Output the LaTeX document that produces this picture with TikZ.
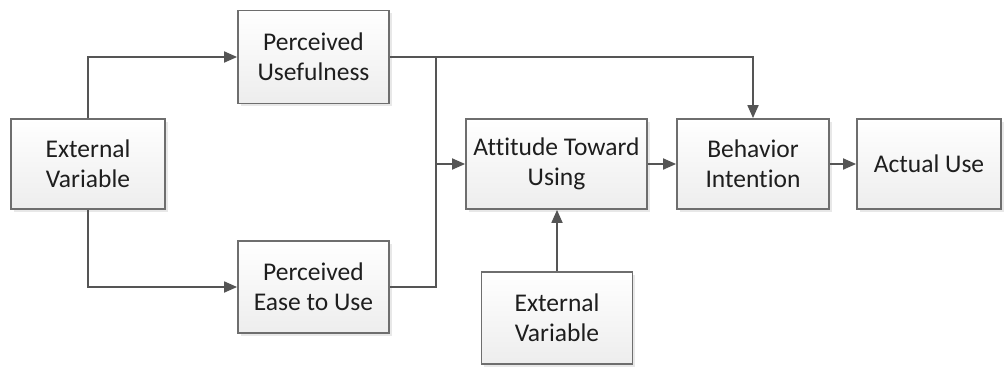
\documentclass[tikz,border=0pt]{standalone}
\usepackage{fontspec}
\setmainfont[Ligatures={NoCommon}]{Carlito}
\usetikzlibrary{arrows.meta,shadows}
\definecolor{boxline}{HTML}{6E6E6E}
\definecolor{conn}{HTML}{555555}
\definecolor{txt}{HTML}{1E1E1E}
\begin{document}
\begin{tikzpicture}[x=1pt,y=-1pt,
  box/.style={draw=boxline, line width=1.8pt, top color=white, bottom color=black!7,
    drop shadow={opacity=0.18, shadow xshift=2.5pt, shadow yshift=-2.5pt},
    align=center, text=txt, inner sep=0pt,
    font=\fontsize{25.5pt}{30pt}\selectfont},
  arr/.style={draw=conn, line width=1.8pt, -{Triangle[length=13pt,width=11pt]}},
  ln/.style={draw=conn, line width=1.8pt}]
\useasboundingbox (0,0) rectangle (1006,370);
\node[box, minimum width=154pt, minimum height=90pt] (ev1) at (88,164) {External\\Variable};
\node[box, minimum width=151pt, minimum height=93pt] (pu) at (313.5,57) {Perceived\\Usefulness};
\node[box, minimum width=151pt, minimum height=92pt] (peu) at (313.5,287) {Perceived\\Ease to Use};
\node[box, minimum width=181pt, minimum height=90pt] (at) at (556.5,164) {Attitude Toward\\Using};
\node[box, minimum width=152pt, minimum height=90pt] (bi) at (753,164) {Behavior\\Intention};
\node[box, minimum width=144pt, minimum height=90pt] (au) at (929,164) {Actual Use};
\node[box, minimum width=151pt, minimum height=92pt] (ev2) at (557,318) {External\\Variable};
\coordinate (j1) at (436,57);
\coordinate (j2) at (436,164);
\draw[arr] (ev1.north) |- (pu.west);
\draw[arr] (ev1.south) |- (peu.west);
\draw[arr] (pu.east) -| (bi.north);
\draw[ln] (peu.east) -| (j1);
\draw[arr] (j2) -- (at.west);
\draw[arr] (at.east) -- (bi.west);
\draw[arr] (bi.east) -- (au.west);
\draw[arr] (ev2.north) -- (ev2.north |- at.south);
\end{tikzpicture}
\end{document}
